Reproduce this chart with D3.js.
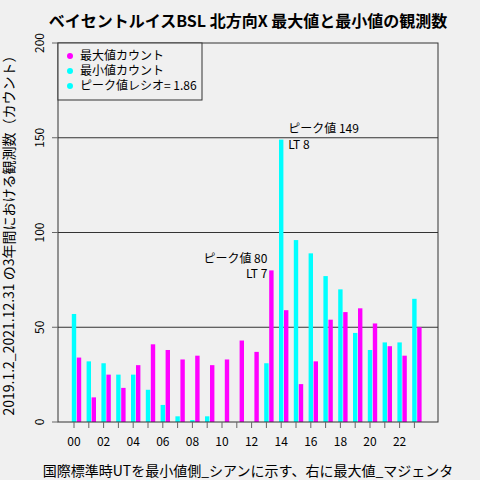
<!DOCTYPE html><html><head><meta charset="utf-8"><script src="https://cdn.jsdelivr.net/npm/d3@7"></script>
<style>body{margin:0;background:#f0f0f0}</style></head><body><svg id="c" width="480" height="480"></svg>
<script>
const hours=d3.range(24);
const minCounts=[57,32,31,25,25,17,9,3,1,3,0,0,0,31,149,96,89,77,70,47,38,42,42,65];
const maxCounts=[34,13,25,18,30,41,38,33,35,30,33,43,37,80,59,20,32,54,58,60,52,40,35,50];
const yTicks=[0,50,100,150,200];
const xLabels=["00","02","04","06","08","10","12","14","16","18","20","22"];
const svg=d3.select("#c");
const F="'Noto Sans CJK JP','Noto Sans',sans-serif";
svg.append("rect").attr("width",480).attr("height",480).attr("fill","#f0f0f0");
const L=58,R=438,T=43,B=422;
const x=d3.scaleLinear().domain([-1,24.6]).range([74-14.8,74+25.6*14.8-14.8]);
const y=d3.scaleLinear().domain([0,200]).range([B,T]);
const g=svg.append("g");
yTicks.slice(1,4).forEach(v=>g.append("line").attr("x1",L).attr("x2",R).attr("y1",y(v)).attr("y2",y(v)).attr("stroke","#333").attr("stroke-width",1));
const bw=4.4;
g.selectAll(".mn").data(hours).join("rect").attr("x",h=>x(h)-bw/2).attr("width",bw).attr("y",h=>y(minCounts[h])).attr("height",h=>B-y(minCounts[h])).attr("fill","#00ffff");
g.selectAll(".mx").data(hours).join("rect").attr("x",h=>x(h)+5-bw/2).attr("width",bw).attr("y",h=>y(maxCounts[h])).attr("height",h=>B-y(maxCounts[h])).attr("fill","#ff00ff");
svg.append("rect").attr("x",L).attr("y",T).attr("width",R-L).attr("height",B-T).attr("fill","none").attr("stroke","#333");
hours.forEach(h=>svg.append("line").attr("x1",x(h)).attr("x2",x(h)).attr("y1",B).attr("y2",B+6).attr("stroke","#666"));
xLabels.forEach((t,i)=>svg.append("text").attr("x",x(i*2)).attr("y",B+24).attr("text-anchor","middle").attr("font-family",F).attr("font-size",12).text(t));
yTicks.forEach(v=>{svg.append("line").attr("x1",L-6).attr("x2",L).attr("y1",y(v)).attr("y2",y(v)).attr("stroke","#666");
svg.append("text").attr("transform",`translate(${L-14},${y(v)}) rotate(-90)`).attr("text-anchor","middle").attr("font-family",F).attr("font-size",12).text(v);});
svg.append("text").attr("x",248).attr("y",27).attr("text-anchor","middle").attr("font-family",F).attr("font-size",16).attr("font-weight","bold").text("ベイセントルイスBSL 北方向X 最大値と最小値の観測数");
svg.append("text").attr("x",248).attr("y",476).attr("text-anchor","middle").attr("font-family",F).attr("font-size",14).text("国際標準時UTを最小値側_シアンに示す、右に最大値_マジェンタ");
svg.append("text").attr("transform","translate(14,232) rotate(-90)").attr("text-anchor","middle").attr("font-family",F).attr("font-size",14).text("2019.1.2_2021.12.31 の3年間における観測数（カウント）");
const fs=12;
svg.append("text").attr("x",x(14)+7).attr("y",y(149)-7).attr("font-family",F).attr("font-size",fs).text("ピーク値 149");
svg.append("text").attr("x",x(14)+7).attr("y",y(149)+9).attr("font-family",F).attr("font-size",fs).text("LT 8");
svg.append("text").attr("x",x(13)+1).attr("y",y(80)-7).attr("text-anchor","end").attr("font-family",F).attr("font-size",fs).text("ピーク値 80");
svg.append("text").attr("x",x(13)+1).attr("y",y(80)+8).attr("text-anchor","end").attr("font-family",F).attr("font-size",fs).text("LT 7");
const lg=svg.append("g");
lg.append("rect").attr("x",L).attr("y",T).attr("width",144).attr("height",57).attr("fill","#f0f0f0").attr("stroke","#333");
[["最大値カウント","#ff00ff"],["最小値カウント","#00ffff"],["ピーク値レシオ= 1.86","#00ffff"]].forEach((d,i)=>{
lg.append("circle").attr("cx",L+12).attr("cy",T+13+i*15).attr("r",3).attr("fill",d[1]);
lg.append("text").attr("x",L+22).attr("y",T+17+i*15).attr("font-family",F).attr("font-size",12).text(d[0]);});
</script></body></html>
